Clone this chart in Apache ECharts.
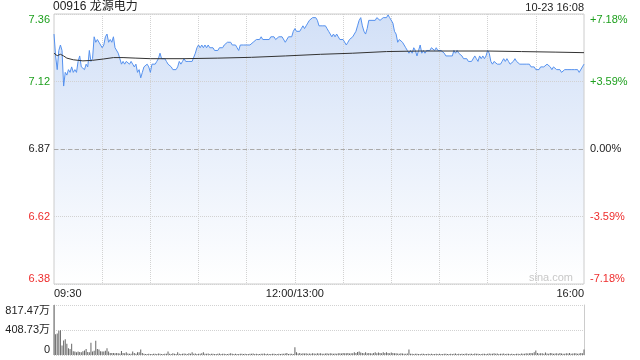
<!DOCTYPE html>
<html><head><meta charset="utf-8">
<script src="https://cdn.jsdelivr.net/npm/echarts@6/dist/echarts.min.js"></script>
<style>html,body{margin:0;padding:0;background:#fff}#c{width:640px;height:360px}</style>
</head><body><div id="c"></div>
<script>
const stockTitle = '00916 龙源电力';
const stampText = '10-23 16:08';
const watermark = 'sina.com';
const prevClose = 6.87;
const rangePct = 7.18;
const stepPct = 3.59;
const volMax = 817.47;
const midLabel = '12:00/13:00';

function hm(m){const h=Math.floor(m/60),mm=m%60;return (h<10?'0':'')+h+':'+(mm<10?'0':'')+mm;}
const categories = [];
for (let m = 9*60+30; m <= 12*60; m++) categories.push(hm(m));
for (let m = 13*60+1; m <= 16*60; m++) categories.push(hm(m));

const price = [
7.29,7.21,7.16,7.23,7.25,7.23,7.10,7.15,7.14,7.16,7.15,7.17,
7.15,7.16,7.15,7.19,7.21,7.17,7.17,7.16,7.18,7.17,7.23,7.19,
7.20,7.28,7.26,7.27,7.26,7.26,7.24,7.25,7.28,7.29,7.26,7.27,
7.26,7.28,7.24,7.24,7.22,7.20,7.18,7.19,7.18,7.19,7.19,7.18,
7.19,7.18,7.17,7.18,7.15,7.16,7.13,7.15,7.17,7.17,7.18,7.17,
7.15,7.18,7.18,7.18,7.19,7.20,7.22,7.20,7.20,7.20,7.19,7.18,
7.18,7.17,7.16,7.16,7.16,7.17,7.19,7.18,7.19,7.20,7.19,7.19,
7.19,7.19,7.19,7.19,7.22,7.24,7.25,7.24,7.25,7.24,7.25,7.24,
7.25,7.24,7.24,7.24,7.23,7.23,7.23,7.24,7.24,7.24,7.25,7.25,
7.26,7.26,7.26,7.25,7.25,7.25,7.24,7.23,7.25,7.25,7.25,7.25,
7.25,7.25,7.25,7.25,7.26,7.26,7.27,7.27,7.27,7.28,7.27,7.27,
7.27,7.27,7.27,7.28,7.28,7.28,7.27,7.27,7.28,7.28,7.28,7.28,
7.26,7.26,7.28,7.28,7.28,7.30,7.31,
7.30,7.30,7.30,7.31,7.32,7.31,7.32,7.33,7.34,7.34,7.35,7.35,
7.35,7.34,7.32,7.32,7.32,7.32,7.32,7.31,7.30,7.29,7.28,7.29,
7.28,7.29,7.28,7.27,7.27,7.27,7.27,7.25,7.26,7.27,7.27,7.28,
7.29,7.30,7.32,7.34,7.35,7.32,7.30,7.29,7.31,7.34,7.34,7.34,
7.34,7.34,7.35,7.35,7.34,7.34,7.35,7.35,7.35,7.36,7.35,7.35,
7.33,7.30,7.29,7.26,7.27,7.27,7.26,7.25,7.24,7.23,7.22,7.23,
7.22,7.24,7.23,7.21,7.23,7.25,7.22,7.23,7.22,7.23,7.23,7.23,
7.24,7.24,7.23,7.24,7.23,7.23,7.23,7.23,7.22,7.21,7.21,7.21,
7.21,7.21,7.23,7.22,7.23,7.22,7.22,7.21,7.20,7.20,7.20,7.19,
7.19,7.19,7.19,7.21,7.20,7.19,7.21,7.20,7.21,7.20,7.21,7.23,
7.22,7.19,7.18,7.19,7.19,7.18,7.18,7.18,7.19,7.20,7.19,7.20,
7.19,7.18,7.18,7.19,7.20,7.19,7.19,7.18,7.18,7.18,7.18,7.18,
7.18,7.18,7.17,7.17,7.17,7.16,7.16,7.16,7.17,7.17,7.17,7.17,
7.18,7.18,7.17,7.16,7.17,7.17,7.16,7.16,7.16,7.15,7.15,7.16,
7.16,7.16,7.16,7.16,7.16,7.16,7.16,7.16,7.15,7.15,7.17,7.18
];

const avgPrice = [
['09:30',7.220],['09:32',7.211],['09:34',7.216],['09:36',7.210],['09:38',7.202],
['09:42',7.196],['09:48',7.192],['09:54',7.194],['10:01',7.199],['10:07',7.204],
['10:13',7.204],['10:21',7.202],['10:30',7.200],['10:51',7.200],['11:12',7.202],
['11:33',7.205],['11:54',7.210],['13:16',7.216],['13:36',7.220],['13:57',7.226],
['14:18',7.228],['14:40',7.228],['15:00',7.228],['15:21',7.226],['15:42',7.224],
['16:00',7.222]
];

const volume = [
817.47,340,350,395,405,156,239,256,183,111,100,183,
60,56,44,56,50,44,61,72,100,48,44,200,
56,70,234,100,89,60,56,56,70,111,56,33,
33,33,28,33,30,25,67,33,30,44,25,20,
22,56,33,22,44,44,89,33,22,18,15,20,
18,15,20,22,18,25,20,15,18,22,20,56,
22,18,30,22,15,44,20,18,22,25,20,18,
30,22,44,20,25,18,22,20,28,44,22,20,
25,18,20,22,18,15,20,25,18,20,22,18,
15,20,30,22,18,20,15,18,20,22,18,20,
15,18,22,20,25,18,20,15,18,20,22,25,
18,20,15,18,20,22,18,15,20,18,22,20,
25,33,18,20,22,18,128,
44,25,33,22,28,25,30,22,25,20,28,25,
22,30,25,28,22,20,25,30,22,28,25,20,
25,22,30,28,25,33,30,28,33,25,30,28,
44,33,50,56,40,33,28,44,30,33,28,25,
33,44,30,40,33,28,44,33,44,33,28,40,
33,28,30,25,22,28,25,22,20,25,89,22,
20,18,22,20,15,18,22,20,18,15,20,18,
22,15,18,20,18,22,15,18,20,22,18,15,
20,18,22,25,18,20,15,22,18,20,25,18,
22,20,18,25,20,22,18,15,20,22,18,20,
25,22,20,28,22,25,18,20,22,25,18,20,
22,18,20,15,18,22,20,18,25,20,22,28,
25,30,33,28,44,72,33,25,30,28,22,40,
25,22,33,28,22,25,30,22,33,25,20,22,
28,25,33,22,25,30,28,22,25,33,30,89
];

const GREEN = '#1ea01e', RED = '#ee2d2d', DARK = '#222';
const GRIDC = '#d2d2d2';
const FONT = '"Liberation Sans","Noto Sans CJK SC",Arial,sans-serif';
const pMin = prevClose * (1 - rangePct/100);
const pStep = prevClose * stepPct/100;
const pMax = pMin + 4*pStep;
function signColor(d){ return d > 1e-6 ? GREEN : (d < -1e-6 ? RED : DARK); }

const chart = echarts.init(document.getElementById('c'), null, {renderer:'canvas'});
chart.setOption({
  animation:false,
  backgroundColor:'#fff',
  textStyle:{fontFamily:FONT},
  title:[
    {text:stockTitle, left:53, top:1, padding:0, textStyle:{fontSize:12, fontWeight:'normal', color:DARK, fontFamily:FONT}},
    {text:stampText, right:56, top:2, padding:0, textStyle:{fontSize:11, fontWeight:'normal', color:DARK, fontFamily:FONT}}
  ],
  graphic:[{type:'text', right:67, bottom:77, silent:true, z:10,
    style:{text:watermark, fill:'#c8c8c8', font:'11px '+FONT}}],
  grid:[
    {left:54, right:56, top:14, bottom:76, show:true, borderColor:'#ccc', borderWidth:1, z:3},
    {left:54, right:56, top:305, height:50}
  ],
  xAxis:[
    {type:'category', gridIndex:0, data:categories, boundaryGap:false, z:3,
     axisLine:{show:false}, axisTick:{show:false},
     axisLabel:{interval:(i)=>i===0||i===150||i===categories.length-1,
       formatter:(v,i)=> i===150 ? midLabel : v, color:DARK, fontSize:11, margin:4,
       alignMinLabel:'left', alignMaxLabel:'right', fontFamily:FONT},
     splitLine:{show:true, interval:(i)=> i%30===0 && i>0 && i<categories.length-1,
       lineStyle:{color:GRIDC, type:'dotted', width:1}}},
    {type:'category', gridIndex:1, data:categories, boundaryGap:false,
     axisLine:{show:false}, axisTick:{show:false}, axisLabel:{show:false}, splitLine:{show:false}}
  ],
  yAxis:[
    {type:'value', gridIndex:0, position:'left', min:pMin, max:pMax, interval:pStep, z:3,
     axisLine:{show:false}, axisTick:{show:false},
     axisLabel:{formatter:(v)=>Number(v).toFixed(2), color:(v)=>signColor(Number(v)-prevClose),
       fontSize:11, margin:4, verticalAlignMinLabel:'bottom', verticalAlignMaxLabel:'top', fontFamily:FONT},
     splitLine:{show:true, lineStyle:{color:GRIDC, type:'dotted', width:1}}},
    {type:'value', gridIndex:0, position:'right', min:-rangePct, max:rangePct, interval:stepPct,
     axisLine:{show:false}, axisTick:{show:false}, splitLine:{show:false},
     axisLabel:{formatter:(v)=>{const n=Number(v);return (n>1e-6?'+':'')+n.toFixed(2)+'%';},
       color:(v)=>signColor(Number(v)), fontSize:11, margin:6,
       verticalAlignMinLabel:'bottom', verticalAlignMaxLabel:'top', fontFamily:FONT}},
    {type:'value', gridIndex:1, position:'left', min:0, max:volMax, interval:volMax/2,
     axisLine:{show:true, lineStyle:{color:'#ccc'}}, axisTick:{show:false},
     axisLabel:{formatter:(v)=>{const n=Number(v); if(n<1e-6) return '0'; return (Math.floor(n*100+1e-6)/100).toFixed(2)+'万';},
       color:DARK, fontSize:11, margin:4, verticalAlignMinLabel:'bottom', verticalAlignMaxLabel:'top', fontFamily:FONT},
     splitLine:{show:true, lineStyle:{color:GRIDC, type:'dotted', width:1}}},
    {type:'value', gridIndex:1, position:'right', min:0, max:volMax,
     axisLine:{show:true, lineStyle:{color:'#ccc'}}, axisTick:{show:false}, axisLabel:{show:false}, splitLine:{show:false}}
  ],
  series:[
    {type:'line', xAxisIndex:0, yAxisIndex:0, data:price, symbol:'none', silent:true, z:1,
     lineStyle:{width:0, opacity:0},
     areaStyle:{color:{type:'linear', x:0, y:0, x2:0, y2:1,
       colorStops:[{offset:0, color:'#d2e0f7'},{offset:1, color:'#ffffff'}]}, opacity:1}},
    {type:'line', xAxisIndex:0, yAxisIndex:0, data:price, symbol:'none', silent:true, z:5,
     lineStyle:{color:'#5591ee', width:1},
     markLine:{silent:true, symbol:'none', label:{show:false},
       lineStyle:{color:'#aaa', type:[4,3], width:1}, data:[{yAxis:prevClose}]}},
    {type:'line', xAxisIndex:0, yAxisIndex:0, data:avgPrice, symbol:'none', silent:true, z:5,
     lineStyle:{color:'#333', width:1}},
    {type:'bar', xAxisIndex:1, yAxisIndex:2, data:volume, barWidth:1, silent:true,
     itemStyle:{color:'#666'}}
  ]
});
</script></body></html>
